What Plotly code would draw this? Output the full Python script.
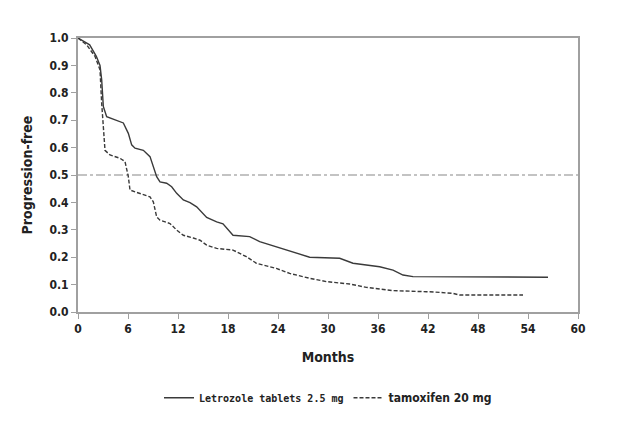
import plotly.graph_objects as go

# Letrozole tablets 2.5 mg (solid)
let_months = [0, 1.4, 2.2, 2.64, 2.84, 3.04, 3.44, 4.64, 5.44, 6.04, 6.44, 6.84, 7.84, 8.64, 9.04, 9.44,
              9.84, 10.64, 11.24, 11.84, 12.64, 13.44, 14.24, 14.64, 15.44, 16.64, 17.4, 18.6, 20.6,
              21.8, 23.8, 25.4, 27.8, 31.4, 33.0, 36.2, 37.8, 39.0, 40.2, 56.4]
let_values = [1.0, 0.975, 0.933, 0.90, 0.848, 0.75, 0.713, 0.70, 0.69, 0.652, 0.61, 0.598, 0.59, 0.567,
              0.53, 0.494, 0.475, 0.47, 0.457, 0.433, 0.409, 0.399, 0.384, 0.37, 0.345, 0.329, 0.322,
              0.28, 0.275, 0.257, 0.238, 0.22, 0.20, 0.196, 0.178, 0.165, 0.153, 0.135, 0.129, 0.127]

# tamoxifen 20 mg (dashed)
tam_months = [0, 1.04, 2.04, 2.44, 2.64, 2.84, 3.04, 3.24, 3.84, 5.04, 5.64, 6.04, 6.24, 7.44, 8.64,
              9.04, 9.44, 9.84, 11.04, 11.84, 12.64, 13.84, 14.64, 15.44, 16.64, 18.6, 20.2, 21.4,
              23.8, 25.4, 27.8, 29.8, 32.6, 34.6, 37.8, 41.8, 42.2, 45.0, 45.8, 53.4]
tam_values = [1.0, 0.975, 0.933, 0.902, 0.884, 0.762, 0.665, 0.59, 0.573, 0.561, 0.549, 0.494, 0.445,
              0.433, 0.42, 0.402, 0.347, 0.335, 0.323, 0.299, 0.28, 0.27, 0.262, 0.244, 0.232, 0.226,
              0.202, 0.178, 0.159, 0.141, 0.123, 0.111, 0.102, 0.09, 0.078, 0.074, 0.074, 0.068,
              0.062, 0.062]

ref_x = [0, 60]
ref_y = [0.5, 0.5]

x_ticks = [0, 6, 12, 18, 24, 30, 36, 42, 48, 54, 60]
y_ticks = [0.0, 0.1, 0.2, 0.3, 0.4, 0.5, 0.6, 0.7, 0.8, 0.9, 1.0]

narrow = "DejaVu Sans Condensed, Liberation Sans Narrow, Arial Narrow, sans-serif"

fig = go.Figure()
fig.add_trace(go.Scatter(x=ref_x, y=ref_y, mode="lines", showlegend=False,
                         line=dict(color="#b0b0b0", width=1.3, dash="dashdot"), hoverinfo="skip"))
fig.add_trace(go.Scatter(x=let_months, y=let_values, mode="lines",
                         name="<span style='font-family:DejaVu Sans Mono, Liberation Mono, monospace;font-size:10px'><b>Letrozole tablets 2.5 mg</b></span>",
                         line=dict(color="#3a3a3a", width=1.4)))
fig.add_trace(go.Scatter(x=tam_months, y=tam_values, mode="lines",
                         name="<span style='font-family:" + narrow + ";font-size:12px'><b>tamoxifen 20 mg</b></span>",
                         line=dict(color="#3a3a3a", width=1.4, dash="4px,2px")))

fig.update_layout(
    width=625, height=434,
    margin=dict(l=78, r=47, t=38, b=122),
    paper_bgcolor="white", plot_bgcolor="white",
    font=dict(family=narrow, color="#222"),
    showlegend=True,
    legend=dict(orientation="h", x=0.5, xanchor="center", y=-0.26, yanchor="top",
                font=dict(size=11, color="#222"), itemwidth=30, tracegroupgap=0),
    xaxis=dict(range=[0, 60], tickvals=x_ticks, ticktext=[str(v) for v in x_ticks],
               showgrid=False, zeroline=False, showline=True, mirror=True,
               linecolor="#a0a0a0", linewidth=2, ticks="outside", ticklen=5, tickcolor="#a0a0a0",
               tickfont=dict(family=narrow, size=12, weight="bold", color="#222"),
               title=dict(text="Months", font=dict(family=narrow, size=14, weight="bold", color="#222"),
                          standoff=17)),
    yaxis=dict(range=[0, 1.0], tickvals=y_ticks, ticktext=[f"{v:.1f}" for v in y_ticks],
               showgrid=False, zeroline=False, showline=True, mirror=True,
               linecolor="#a0a0a0", linewidth=2, ticks="outside", ticklen=5, tickcolor="#a0a0a0",
               tickfont=dict(family=narrow, size=12, weight="bold", color="#222"),
               title=dict(text="Progression-free", font=dict(family=narrow, size=14, weight="bold", color="#222"),
                          standoff=14)),
)

fig.write_html("out.html")
